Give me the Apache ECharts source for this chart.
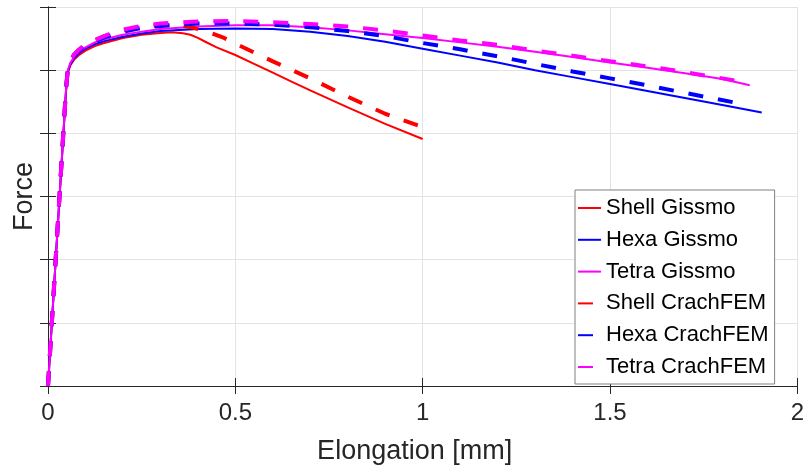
<!DOCTYPE html>
<html>
<head>
<meta charset="utf-8">
<script src="https://cdn.jsdelivr.net/npm/echarts@6/dist/echarts.min.js"></script>
<style>
  html, body { margin: 0; padding: 0; background: #fff; }
  #chart { width: 807px; height: 470px; }
</style>
</head>
<body>
<div id="chart"></div>
<script>
// Force–elongation curves, [elongation mm, force] pairs
const shellGissmo = [[0,0],[0.048,4.65],[0.053,4.96],[0.06,5.08],[0.07,5.17],[0.085,5.25],[0.1,5.31],[0.125,5.38],[0.15,5.43],[0.2,5.51],[0.25,5.56],[0.3,5.59],[0.33,5.6],[0.36,5.585],[0.38,5.56],[0.4,5.51],[0.42,5.45],[0.45,5.36],[0.5,5.24],[0.55,5.1],[0.6,4.96],[0.65,4.82],[0.7,4.68],[0.8,4.41],[0.9,4.15],[1.0,3.91]];
const hexaGissmo = [[0,0],[0.048,4.67],[0.053,4.98],[0.06,5.1],[0.07,5.19],[0.085,5.28],[0.1,5.34],[0.125,5.41],[0.15,5.46],[0.2,5.53],[0.25,5.58],[0.3,5.62],[0.4,5.65],[0.5,5.66],[0.6,5.65],[0.7,5.61],[0.8,5.54],[0.9,5.45],[1.0,5.34],[1.1,5.23],[1.2,5.12],[1.3,5.00],[1.4,4.89],[1.5,4.78],[1.6,4.67],[1.7,4.56],[1.8,4.45],[1.905,4.33]];
const tetraGissmo = [[0,0],[0.048,4.68],[0.053,5.0],[0.06,5.12],[0.07,5.21],[0.085,5.3],[0.1,5.36],[0.125,5.44],[0.15,5.49],[0.2,5.56],[0.25,5.61],[0.3,5.65],[0.4,5.69],[0.5,5.71],[0.6,5.71],[0.7,5.68],[0.8,5.63],[0.9,5.57],[1.0,5.51],[1.1,5.44],[1.2,5.37],[1.3,5.29],[1.4,5.21],[1.5,5.12],[1.6,5.04],[1.7,4.95],[1.8,4.86],[1.873,4.76]];
const shellCrach = [[0,0],[0.048,4.7],[0.053,5.02],[0.06,5.15],[0.07,5.25],[0.08,5.31],[0.1,5.41],[0.15,5.54],[0.2,5.63],[0.25,5.69],[0.3,5.71],[0.35,5.71],[0.39,5.67],[0.43,5.60],[0.47,5.51],[0.5,5.42],[0.55,5.28],[0.6,5.14],[0.7,4.87],[0.8,4.58],[0.9,4.31],[1.0,4.10]];
const hexaCrach = [[0,0],[0.048,4.7],[0.053,5.02],[0.06,5.14],[0.07,5.24],[0.08,5.3],[0.1,5.39],[0.15,5.52],[0.2,5.61],[0.25,5.67],[0.3,5.70],[0.4,5.74],[0.5,5.74],[0.6,5.72],[0.7,5.68],[0.8,5.62],[0.9,5.54],[1.0,5.43],[1.1,5.33],[1.2,5.22],[1.3,5.10],[1.4,4.98],[1.5,4.87],[1.6,4.76],[1.7,4.64],[1.84,4.48]];
const tetraCrach = [[0,0],[0.048,4.7],[0.053,5.02],[0.06,5.15],[0.07,5.25],[0.08,5.31],[0.1,5.41],[0.15,5.54],[0.2,5.64],[0.25,5.70],[0.3,5.74],[0.4,5.77],[0.5,5.78],[0.6,5.76],[0.7,5.73],[0.8,5.69],[0.9,5.63],[1.0,5.55],[1.1,5.47],[1.2,5.40],[1.3,5.31],[1.4,5.23],[1.5,5.14],[1.6,5.06],[1.7,4.97],[1.84,4.83]];

const seriesNames = ['Shell Gissmo','Hexa Gissmo','Tetra Gissmo','Shell CrachFEM','Hexa CrachFEM','Tetra CrachFEM'];
const seriesData = [shellGissmo, hexaGissmo, tetraGissmo, shellCrach, hexaCrach, tetraCrach];
const seriesColors = ['#ff0000','#0000ff','#ff00ff','#ff0000','#0000ff','#ff00ff'];
const dashed = [false,false,false,true,true,true];

const FONT = 'Liberation Sans, Arial, Helvetica, sans-serif';
const AXIS_COLOR = '#262626';
const GRID_COLOR = '#e3e3e3';

const chart = echarts.init(document.getElementById('chart'), null, { renderer: 'canvas' });

const boxAxis = (extra) => Object.assign({
  type: 'value',
  axisLine: { show: true, lineStyle: { color: AXIS_COLOR, width: 1 } },
  axisTick: { show: true, inside: true, length: 8, lineStyle: { color: AXIS_COLOR, width: 1 } },
  axisLabel: { show: false },
  splitLine: { show: false }
}, extra);

chart.setOption({
  animation: false,
  backgroundColor: '#ffffff',
  grid: { left: 48, right: 6, top: 7, bottom: 81, containLabel: false },
  legend: {
    orient: 'vertical',
    left: 575,
    top: 190,
    padding: [6, 6, 5, 2],
    itemWidth: 23,
    itemHeight: 14,
    itemGap: 7.8,
    // line-only legend keys (no marker on the key)
    itemStyle: { opacity: 0 },
    backgroundColor: '#ffffff',
    borderColor: '#808080',
    borderWidth: 1,
    borderRadius: 0,
    textStyle: { fontFamily: FONT, fontSize: 22, color: '#000', lineHeight: 24 },
    data: seriesNames
  },
  xAxis: [
    boxAxis({
      min: 0, max: 2, interval: 0.5, position: 'bottom',
      name: 'Elongation [mm]', nameLocation: 'middle', nameGap: 52,
      nameTextStyle: { fontFamily: FONT, fontSize: 27, color: AXIS_COLOR, padding: [0, 16, 0, 0] },
      axisLabel: { show: true, margin: 15, fontFamily: FONT, fontSize: 24, color: AXIS_COLOR, showMinLabel: true, showMaxLabel: true },
      splitLine: { show: true, lineStyle: { color: GRID_COLOR, width: 1 } }
    }),
    boxAxis({ min: 0, max: 2, interval: 0.5, position: 'top' })
  ],
  yAxis: [
    boxAxis({
      min: 0, max: 6, interval: 1, position: 'left',
      name: 'Force', nameLocation: 'middle', nameGap: 10, nameRotate: 90,
      nameTextStyle: { fontFamily: FONT, fontSize: 27, color: AXIS_COLOR },
      splitLine: { show: true, lineStyle: { color: GRID_COLOR, width: 1 } }
    }),
    boxAxis({ min: 0, max: 6, interval: 1, position: 'right' })
  ],
  series: seriesData.map((d, i) => ({
    name: seriesNames[i],
    type: 'line',
    data: d,
    symbol: 'none',
    showSymbol: false,
    smooth: false,
    color: seriesColors[i],
    lineStyle: {
      color: seriesColors[i],
      width: dashed[i] ? 4 : 2,
      type: dashed[i] ? [15, 15] : 'solid',
      cap: 'butt'
    },
    z: 2 + i
  }))
});
</script>
</body>
</html>
